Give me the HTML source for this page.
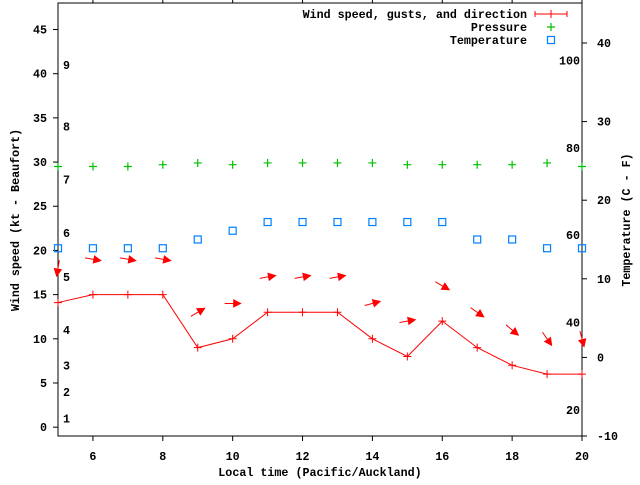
<!DOCTYPE html>
<html><head><meta charset="utf-8"><style>
body{margin:0;background:#fff}
svg text{font-family:"Liberation Mono",monospace;font-weight:bold;font-size:11.7px;fill:#000}
</style></head><body>
<svg id="c" width="640" height="480" xmlns="http://www.w3.org/2000/svg"></svg>
<script>
const hours=[5,6,7,8,9,10,11,12,13,14,15,16,17,18,19,20];
const windSpeed=[14.1,15,15,15,9,10,13,13,13,10,8,12,9,7,6,6];
const windGust=[18,19,19,19,13,14,17,17,17,14,12,16,13,11,10,10];
const windDirDeg=[100,10,10,10,-30,0,-10,-10,-10,-15,-10,30,35,40,55,75];
const pressure=[29.5,29.5,29.5,29.7,29.9,29.7,29.9,29.9,29.9,29.9,29.7,29.7,29.7,29.7,29.9,29.5];
const tempF=[57,57,57,57,59,61,63,63,63,63,63,63,59,59,57,57];
const xTicks=[6,8,10,12,14,16,18,20];
const yTicks=[0,5,10,15,20,25,30,35,40,45];
const cTicks=[-10,0,10,20,30,40];
const fTicks=[20,40,60,80,100];
const beaufortKt=[1,4,7,11,17,22,28,34,41];
const beaufortLabels=["1","2","3","4","5","6","7","8","9"];

const L=58,R=582,T=3,B=436;
const X=v=>L+(v-5)/15*(R-L);
const Y=v=>B-(v+1)/49*(B-T);
const YC=c=>B-(c+10)/50*(B-43);
const YF=f=>YC((f-32)*5/9);
const svg=document.getElementById('c');
const NS='http://www.w3.org/2000/svg';
function el(tag,attrs,txt){const e=document.createElementNS(NS,tag);for(const k in attrs)e.setAttribute(k,attrs[k]);if(txt!==undefined)e.textContent=txt;svg.appendChild(e);return e;}

let e;
e=el('rect',{x:L,y:T,width:R-L,height:B-T,fill:'none',stroke:'#000','stroke-width':1});



xTicks.forEach(v=>{
  e=el('path',{d:`M${X(v)},${B}v5M${X(v)},${T}v-4`,stroke:'#000'});
  
  
  e=el('text',{x:X(v),y:B+24,'text-anchor':'middle'},String(v));
  
  
});
yTicks.forEach(v=>{
  e=el('path',{d:`M${L-5},${Y(v)}h5`,stroke:'#000'});
  
  
  e=el('text',{x:47,y:Y(v)+4,'text-anchor':'end'},String(v));
  
  
});
cTicks.forEach(v=>{
  e=el('path',{d:`M${R},${YC(v)}h5`,stroke:'#000'});
  
  
  e=el('text',{x:597,y:YC(v)+4},String(v));
  
  
});
fTicks.forEach(v=>{
  e=el('text',{x:580,y:YF(v)+4,'text-anchor':'end'},String(v));
  
  
});
beaufortKt.forEach((v,i)=>{
  e=el('text',{x:63,y:Y(v)+4},beaufortLabels[i]);
  
  
});

// temperature
tempF.forEach((f,i)=>{
  e=el('rect',{x:X(hours[i])-3.5,y:YF(f)-3.5,width:7,height:7,fill:'none',stroke:'#0080ff','stroke-width':1.2});
  
  
});
// pressure
pressure.forEach((p,i)=>{
  const x=X(hours[i]),y=Y(p);
  e=el('path',{d:`M${x-4},${y}h8M${x},${y-4}v8`,stroke:'#00c000','stroke-width':1.2});
  
  
});
// wind line
e=el('polyline',{points:hours.map((h,i)=>X(h)+','+Y(windSpeed[i])).join(' '),fill:'none',stroke:'#ff0000','stroke-width':1});


windSpeed.forEach((s,i)=>{
  const x=X(hours[i]),y=Y(s);
  e=el('path',{d:`M${x-4},${y}h8M${x},${y-4}v8`,stroke:'#ff0000','stroke-width':1});
  
  
});
// arrows
windGust.forEach((g,i)=>{
  const x=X(hours[i]),y=Y(g),a=windDirDeg[i]*Math.PI/180,Lh=8;
  const c=Math.cos(a),s=Math.sin(a);
  const x0=x-Lh*c,y0=y-Lh*s,x1=x+Lh*c,y1=y+Lh*s;
  const bx=x1-7*c,by=y1-7*s;
  e=el('path',{d:`M${x0},${y0}L${x1},${y1}M${x1},${y1}L${bx-3.5*s},${by+3.5*c}L${bx+3.5*s},${by-3.5*c}Z`,stroke:'#ff0000',fill:'#ff0000','stroke-width':1});
  
  
});

// legend
const lg=[['Wind speed, gusts, and direction',14],['Pressure',27],['Temperature',40]];
lg.forEach(([t,y])=>{
  e=el('text',{x:527,y:y+4,'text-anchor':'end'},t);
  
  
});
e=el('path',{d:'M535,14h32M535,11v6M567,11v6M551,10v8',stroke:'#ff0000'});


e=el('path',{d:'M547,27h8M551,23v8',stroke:'#00c000','stroke-width':1.2});


e=el('rect',{x:547.5,y:36.5,width:7,height:7,fill:'none',stroke:'#0080ff','stroke-width':1.2});



e=el('text',{x:320,y:476,'text-anchor':'middle'},'Local time (Pacific/Auckland)');


e=el('text',{x:0,y:0,'text-anchor':'middle',transform:'translate(19,220) rotate(-90)'},'Wind speed (kt - Beaufort)');


e=el('text',{x:0,y:0,'text-anchor':'middle',transform:'translate(630,220) rotate(-90)'},'Temperature (C - F)');


</script>
</body></html>
